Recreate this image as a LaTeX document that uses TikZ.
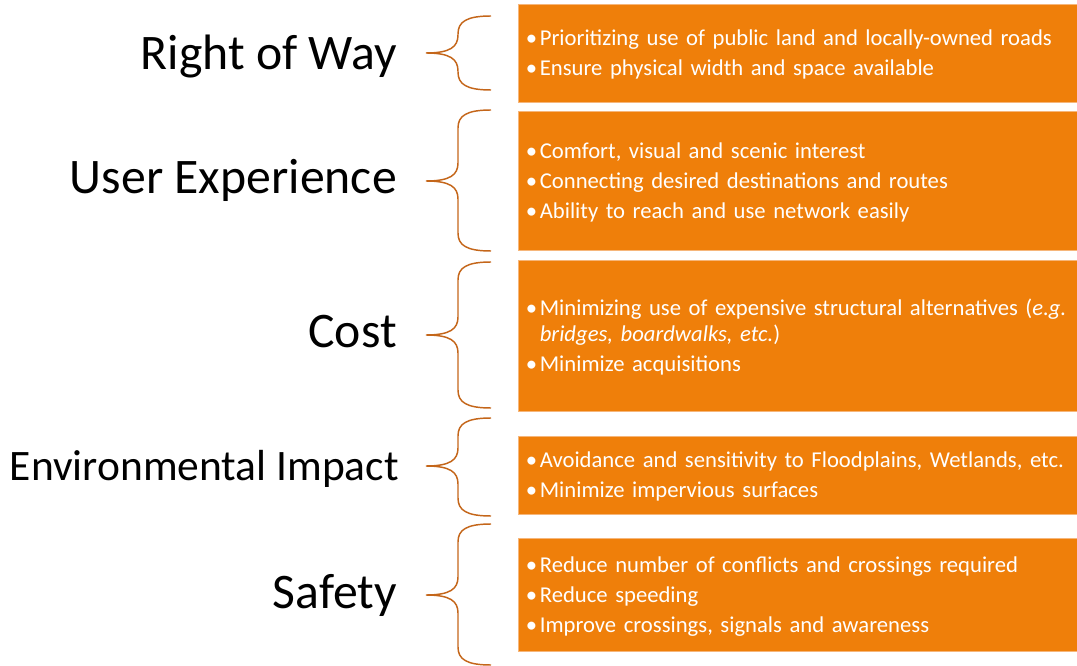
\documentclass[tikz,border=0pt]{standalone}
\usepackage{fontspec}
\setmainfont{Carlito}
\usepackage{enumitem}
\usetikzlibrary{positioning}

\definecolor{boxorange}{HTML}{EF7F0A}
\definecolor{braceorange}{HTML}{C4661A}
\definecolor{edgeorange}{HTML}{F6B67A}

\setlist[itemize]{label=\textbullet,leftmargin=9pt,labelsep=2pt,itemsep=3pt,topsep=0pt,parsep=0pt,partopsep=0pt}

\begin{document}
\begin{tikzpicture}[x=0.75pt,y=-0.75pt,
  catlabel/.style={anchor=base east,inner sep=0pt,font=\fontsize{37.3}{44}\selectfont},
  itembox/.style={rectangle,draw=edgeorange,line width=0.75pt,fill=boxorange,anchor=north west,
    minimum width=419.25pt,minimum height=#1,inner xsep=7pt,inner ysep=0pt,text width=410pt,
    align=left,text=white,font=\fontsize{17}{19.5}\selectfont,
    execute at end node={\endgraf\vspace{6pt}}},
  catbrace/.style={draw=braceorange,line width=1.1pt},
]
\useasboundingbox (0,0) rectangle (1077,666);

% === categories ===
\node[catlabel] (row)  at (397,70)  {Right of Way};
\node[catlabel] (ux)   at (397,194) {User Experience};
\node[catlabel] (cost) at (397,348) {Cost};
\node[catlabel,font=\fontsize{32.6}{40}\selectfont] (env) at (399,480) {Environmental Impact};
\node[catlabel] (safe) at (397,608) {Safety};

% === braces ===
\foreach \top/\tip/\bot in {16/53/90, 110/181/251, 262/335/408, 418/466/516, 524/595/665}
  \draw[catbrace] (491,\top) .. controls (466,\top) and (458,\top+6) .. (458,\top+18)
    -- (458,\tip-18) .. controls (458,\tip-6) and (450,\tip) .. (426,\tip)
    .. controls (450,\tip) and (458,\tip+6) .. (458,\tip+18)
    -- (458,\bot-18) .. controls (458,\bot-6) and (466,\bot) .. (491,\bot);

% === criteria boxes ===
\node[itembox=73.5pt] (rowbox) at (518,4) {\begin{itemize}
  \item Prioritizing use of public land and locally-owned roads
  \item Ensure physical width and space available
\end{itemize}};
\node[itembox=104.25pt] (uxbox) at (518,111) {\begin{itemize}
  \item Comfort, visual and scenic interest
  \item Connecting desired destinations and routes
  \item Ability to reach and use network easily
\end{itemize}};
\node[itembox=113.25pt] (costbox) at (518,260) {\begin{itemize}
  \item Minimizing use of expensive structural alternatives (\textit{e.g.}\newline
    \textit{bridges, boardwalks, etc.})
  \item Minimize acquisitions
\end{itemize}};
\node[itembox=58.5pt] (envbox) at (518,436) {\begin{itemize}
  \item Avoidance and sensitivity to Floodplains, Wetlands, etc.
  \item Minimize impervious surfaces
\end{itemize}};
\node[itembox=84.75pt] (safebox) at (518,538) {\begin{itemize}
  \item Reduce number of conflicts and crossings required
  \item Reduce speeding
  \item Improve crossings, signals and awareness
\end{itemize}};

\end{tikzpicture}
\end{document}
